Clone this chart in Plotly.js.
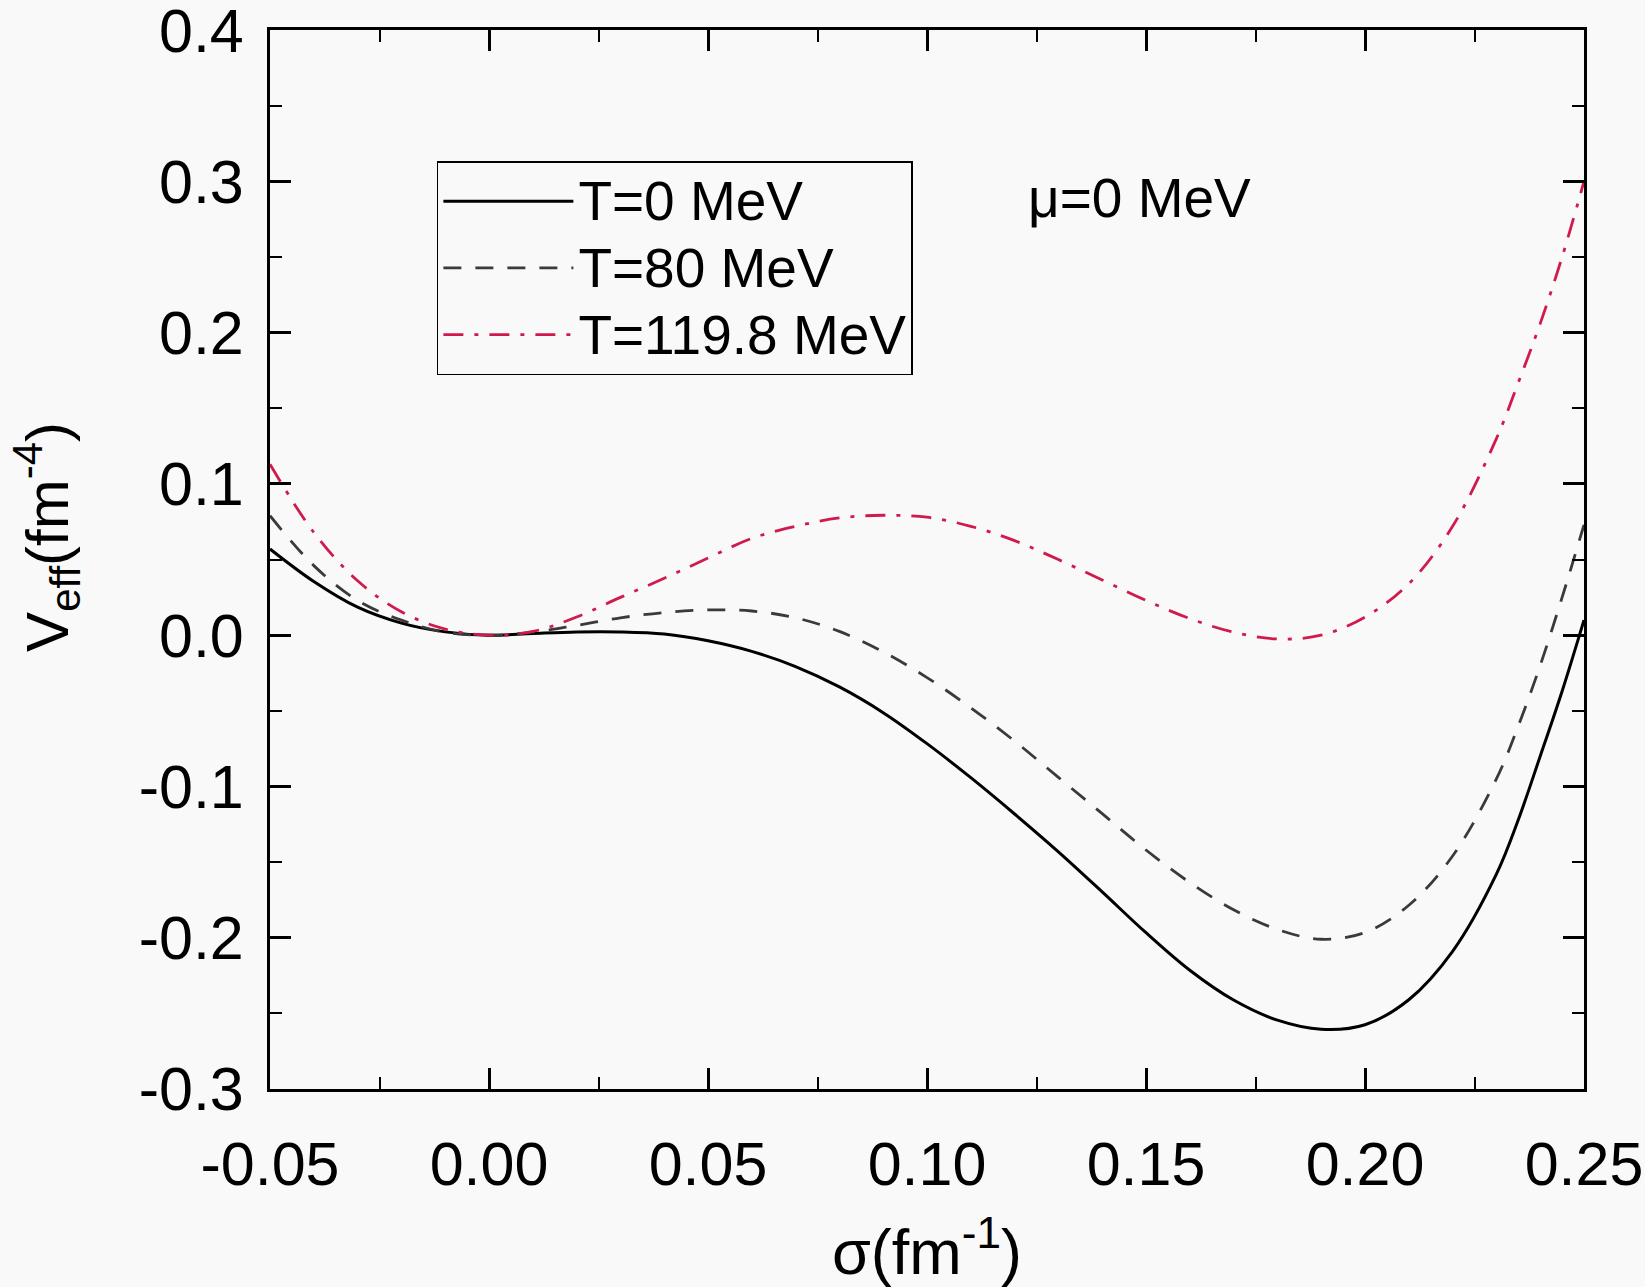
<!DOCTYPE html>
<html>
<head>
<meta charset="utf-8">
<script src="https://cdn.plot.ly/plotly-3.0.1.min.js"></script>
<style>
  html, body { margin: 0; padding: 0; background: #f9f9f9; }
  #chart { width: 1645px; height: 1287px; }
</style>
</head>
<body>
<div id="chart"></div>
<script>
// sigma (fm^-1)
var sigma = [-0.05, -0.04, -0.03, -0.02, -0.01, 0.0, 0.01, 0.02, 0.03, 0.04, 0.05,
             0.06, 0.07, 0.08, 0.09, 0.10, 0.11, 0.12, 0.13, 0.14, 0.15, 0.16, 0.17,
             0.18, 0.19, 0.20, 0.21, 0.22, 0.23, 0.235, 0.24, 0.245, 0.25];

// V_eff (fm^-4)
var v_T0 = [0.057, 0.0355, 0.0185, 0.008, 0.0022, 0.0, 0.0012, 0.0022, 0.0022, 0.0008, -0.0037,
            -0.0107, -0.0207, -0.0342, -0.0512, -0.0717, -0.0942, -0.1182, -0.1432, -0.1697, -0.1967, -0.2215, -0.2412,
            -0.2545, -0.2605, -0.2575, -0.241, -0.209, -0.158, -0.122, -0.080, -0.037, 0.010];

var v_T80 = [0.079, 0.046, 0.023, 0.010, 0.002, 0.0, 0.002, 0.0065, 0.0115, 0.015, 0.0167,
             0.016, 0.0115, 0.0025, -0.011, -0.028, -0.048, -0.070, -0.094, -0.118, -0.142, -0.1635, -0.1815,
             -0.1945, -0.201, -0.1965, -0.1785, -0.146, -0.095, -0.060, -0.020, 0.025, 0.073];

var v_T1198 = [0.113, 0.068, 0.036, 0.0155, 0.004, 0.0, 0.0025, 0.012, 0.025, 0.0376, 0.051,
               0.064, 0.072, 0.0775, 0.0793, 0.078, 0.072, 0.0625, 0.050, 0.0365, 0.023, 0.011, 0.002,
               -0.0025, 0.0, 0.012, 0.034, 0.072, 0.130, 0.167, 0.206, 0.250, 0.300];

var seriesNames = ['T=0 MeV', 'T=80 MeV', 'T=119.8 MeV'];

var xTicks = [-0.05, 0.0, 0.05, 0.10, 0.15, 0.20, 0.25];
var xTickText = ['-0.05', '0.00', '0.05', '0.10', '0.15', '0.20', '0.25'];
var yTicks = [-0.3, -0.2, -0.1, 0.0, 0.1, 0.2, 0.3, 0.4];
var yTickText = ['-0.3', '-0.2', '-0.1', '0.0', '0.1', '0.2', '0.3', '0.4'];

var font = 'Liberation Sans, Arial, sans-serif';

// legend text drawn a bit larger than the legend row height
function legendName(s) {
  return '<span style="font-size:55px">' + s + '</span>';
}

var traces = [
  {x: sigma, y: v_T0, name: legendName(seriesNames[0]), type: 'scatter', mode: 'lines',
   line: {color: '#000000', width: 3, shape: 'spline'}},
  {x: sigma, y: v_T80, name: legendName(seriesNames[1]), type: 'scatter', mode: 'lines',
   line: {color: '#3a3a3a', width: 2.8, dash: '18px,14px', shape: 'spline'}},
  {x: sigma, y: v_T1198, name: legendName(seriesNames[2]), type: 'scatter', mode: 'lines',
   line: {color: '#d01a4c', width: 2.8, dash: '20px,11px,4px,11px', shape: 'spline'}}
];

var axisCommon = {
  showline: true, linecolor: '#000', linewidth: 3, mirror: 'ticks',
  ticks: 'inside', ticklen: 21, tickwidth: 3, tickcolor: '#000',
  showgrid: false, zeroline: false,
  tickfont: {family: font, size: 61, color: '#000'},
  ticklabeloverflow: 'allow',
  tickmode: 'array'
};

var layout = {
  width: 1645, height: 1287,
  paper_bgcolor: '#f9f9f9', plot_bgcolor: '#f9f9f9',
  margin: {l: 270, r: 61, t: 30, b: 198},
  showlegend: true,
  xaxis: Object.assign({}, axisCommon, {
    range: [-0.05, 0.25], tickvals: xTicks, ticktext: xTickText,
    ticklabelstandoff: 20,
    minor: {ticks: 'inside', ticklen: 12, tickwidth: 2, tickcolor: '#000', dtick: 0.025, tick0: 0},
    title: {text: 'σ(fm<sup>-1</sup>)', font: {family: font, size: 63, color: '#000'}, standoff: 40}
  }),
  yaxis: Object.assign({}, axisCommon, {
    range: [-0.3, 0.4001], tickvals: yTicks, ticktext: yTickText,
    ticklabelstandoff: 11,
    minor: {ticks: 'inside', ticklen: 12, tickwidth: 2, tickcolor: '#000', dtick: 0.05, tick0: 0}
  }),
  legend: {
    x: 0.127, y: 0.876, xanchor: 'left', yanchor: 'top',
    bgcolor: '#f9f9f9', bordercolor: '#000', borderwidth: 1.5,
    font: {family: font, size: 49, color: '#000'},
    itemwidth: 130
  },
  annotations: [
    {xref: 'paper', yref: 'paper', x: -0.17, y: 0.521, xanchor: 'center', yanchor: 'middle',
     textangle: -90, text: 'V<sub>eff</sub>(fm<sup>-4</sup>)', showarrow: false,
     font: {family: font, size: 60, color: '#000'}},
    {xref: 'paper', yref: 'paper', x: 0.575, y: 0.841, xanchor: 'left', yanchor: 'middle',
     text: 'μ=0 MeV', showarrow: false, font: {family: font, size: 55, color: '#000'}}
  ]
};

Plotly.newPlot('chart', traces, layout, {displayModeBar: false});
</script>
</body>
</html>
